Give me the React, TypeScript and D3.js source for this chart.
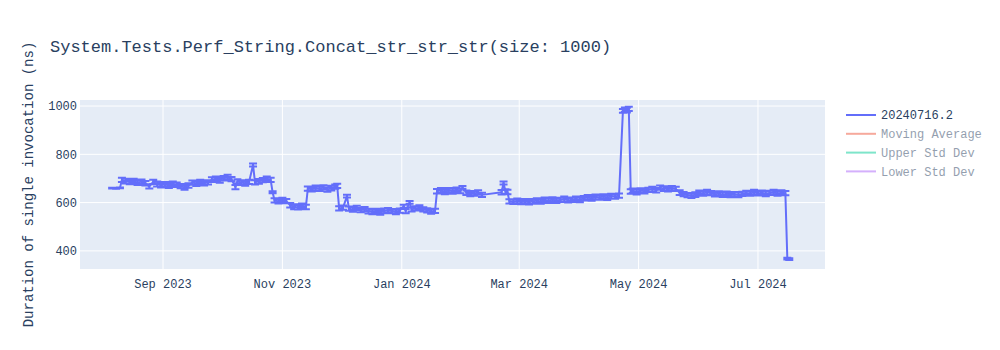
import React from "react";
import * as d3 from "d3";

const chartTitle = "System.Tests.Perf_String.Concat_str_str_str(size: 1000)";
const yAxisTitle = "Duration of single invocation (ns)";

// run dates, grouped by month
const runDates: string[] = [
  "2023-08-06","2023-08-08","2023-08-10","2023-08-11","2023-08-13","2023-08-15","2023-08-17","2023-08-19","2023-08-21","2023-08-23","2023-08-25","2023-08-27","2023-08-29","2023-08-31",
  "2023-09-02","2023-09-04","2023-09-06","2023-09-08","2023-09-10","2023-09-12","2023-09-14","2023-09-16","2023-09-18","2023-09-20","2023-09-22","2023-09-24","2023-09-26","2023-09-28","2023-09-30",
  "2023-10-02","2023-10-04","2023-10-06","2023-10-08","2023-10-09","2023-10-11","2023-10-13","2023-10-15","2023-10-17","2023-10-18","2023-10-20","2023-10-22","2023-10-24","2023-10-26","2023-10-27","2023-10-28","2023-10-30",
  "2023-11-01","2023-11-03","2023-11-05","2023-11-07","2023-11-09","2023-11-11","2023-11-13","2023-11-14","2023-11-16","2023-11-18","2023-11-20","2023-11-22","2023-11-24","2023-11-26","2023-11-28","2023-11-29","2023-11-30",
  "2023-12-02","2023-12-04","2023-12-05","2023-12-07","2023-12-09","2023-12-11","2023-12-13","2023-12-15","2023-12-17","2023-12-19","2023-12-21","2023-12-23","2023-12-25","2023-12-27","2023-12-29","2023-12-31",
  "2024-01-02","2024-01-03","2024-01-05","2024-01-06","2024-01-08","2024-01-10","2024-01-12","2024-01-14","2024-01-16","2024-01-18","2024-01-19","2024-01-21","2024-01-23","2024-01-25","2024-01-27","2024-01-29","2024-01-31",
  "2024-02-01","2024-02-03","2024-02-05","2024-02-07","2024-02-09","2024-02-11","2024-02-21","2024-02-22","2024-02-23","2024-02-24","2024-02-25","2024-02-27","2024-02-29",
  "2024-03-02","2024-03-04","2024-03-06","2024-03-08","2024-03-10","2024-03-12","2024-03-14","2024-03-16","2024-03-18","2024-03-20","2024-03-22","2024-03-24","2024-03-26","2024-03-28","2024-03-30",
  "2024-04-01","2024-04-03","2024-04-05","2024-04-07","2024-04-09","2024-04-11","2024-04-13","2024-04-15","2024-04-17","2024-04-19","2024-04-21","2024-04-23","2024-04-24","2024-04-25","2024-04-26","2024-04-27","2024-04-28","2024-04-30",
  "2024-05-02","2024-05-04","2024-05-06","2024-05-08","2024-05-10","2024-05-12","2024-05-14","2024-05-16","2024-05-18","2024-05-20","2024-05-22","2024-05-24","2024-05-26","2024-05-28","2024-05-30",
  "2024-06-01","2024-06-03","2024-06-05","2024-06-07","2024-06-09","2024-06-11","2024-06-13","2024-06-15","2024-06-17","2024-06-19","2024-06-21","2024-06-23","2024-06-25","2024-06-27","2024-06-29",
  "2024-07-01","2024-07-03","2024-07-05","2024-07-07","2024-07-09","2024-07-11","2024-07-13","2024-07-15","2024-07-16","2024-07-17",
];

// duration in ns, same grouping
const durations: number[] = [
  660,659,661,694,689,685,690,683,687,680,667,686,677,672,
  676,671,678,674,668,663,671,683,679,686,680,684,695,699,692,
  701,706,697,664,688,683,679,686,756,684,688,693,699,694,643,609,605,
  611,606,589,583,580,587,582,658,655,661,657,663,654,660,666,669,576,
  579,627,575,572,578,569,573,565,561,566,559,566,569,565,561,567,
  585,565,601,572,576,579,572,568,563,566,647,651,644,652,647,654,648,
  663,641,635,638,642,632,643,681,646,644,605,603,607,
  602,606,601,605,609,604,612,608,613,607,611,615,609,612,616,
  611,618,622,617,624,621,626,620,627,625,629,980,985,983,988,646,649,644,
  650,647,653,656,651,662,658,655,660,657,641,635,631,628,633,
  641,637,643,639,634,638,633,637,631,635,632,636,640,637,643,
  638,641,636,640,644,637,641,639,368,366,
];

// error (std dev) in ns, same grouping
const errors: number[] = [
  2,2,2,9,10,9,9,10,9,9,9,9,10,9,
  9,10,9,9,9,10,9,9,10,9,9,9,10,9,10,
  9,9,9,9,9,10,9,9,6,9,10,9,9,9,4,9,9,
  9,9,9,10,9,9,9,9,9,10,9,9,9,10,9,9,9,
  9,6,9,10,9,9,9,10,9,9,9,10,9,9,9,9,
  6,9,6,9,9,10,9,9,9,9,9,10,9,9,10,9,9,
  6,9,9,10,9,9,9,6,9,9,9,9,10,
  9,9,9,10,9,9,9,10,9,9,9,10,9,9,9,
  10,9,9,9,10,9,9,9,10,9,9,8,9,10,9,9,9,10,
  9,9,9,10,9,9,10,9,9,9,10,9,9,9,10,
  9,9,10,9,9,9,10,9,9,9,10,9,9,9,10,
  9,9,10,9,9,9,10,9,4,4,
];

const xDomain = ["2023-07-20T14:00:00Z", "2024-08-04T06:00:00Z"];
const xTickDates = ["2023-09-01", "2023-11-01", "2024-01-01", "2024-03-01", "2024-05-01", "2024-07-01"];
const xTickLabels = ["Sep 2023", "Nov 2023", "Jan 2024", "Mar 2024", "May 2024", "Jul 2024"];
const yDomain = [325, 1025];
const yTicks = [400, 600, 800, 1000];

const legendNames = ["20240716.2", "Moving Average", "Upper Std Dev", "Lower Std Dev"];
const legendColors = ["#636efa", "#EF553B", "#00cc96", "#ab63fa"];
const legendVisible = [true, false, false, false];

const W = 1000, H = 350;
const M = { left: 80, right: 825, top: 100, bottom: 269 };
const FONT = "'Liberation Mono', 'Courier New', monospace";
const TXT = "#2a3f5f";

export default function App() {
  const parse = d3.utcParse("%Y-%m-%d");
  const x = d3.scaleUtc()
    .domain([new Date(xDomain[0]), new Date(xDomain[1])])
    .range([M.left, M.right]);
  const y = d3.scaleLinear().domain(yDomain).range([M.bottom, M.top]);

  const n = Math.min(runDates.length, durations.length, errors.length);
  const pts = d3.range(n).map((i) => ({
    d: parse(runDates[i]) as Date,
    v: durations[i],
    e: errors[i],
  }));

  const line = d3.line<{ d: Date; v: number }>()
    .x((p) => x(p.d))
    .y((p) => y(p.v));

  const cw = 4;
  const errPath = pts
    .map((p) => {
      const px = x(p.d);
      const yh = y(p.v + p.e);
      const yl = y(p.v - p.e);
      return `M${px - cw},${yh}h${2 * cw}M${px},${yh}V${yl}M${px - cw},${yl}h${2 * cw}`;
    })
    .join("");

  const midY = (M.top + M.bottom) / 2;

  return (
    <svg
      width={W}
      height={H}
      style={{ position: "absolute", left: 0, top: 0, background: "#fff" }}
      fontFamily={FONT}
    >
      <defs>
        <clipPath id="plotclip">
          <rect x={M.left} y={M.top} width={M.right - M.left} height={M.bottom - M.top} />
        </clipPath>
      </defs>
      <rect x={M.left} y={M.top} width={M.right - M.left} height={M.bottom - M.top} fill="#e5ecf6" />
      {xTickDates.map((t) => {
        const px = x(parse(t) as Date);
        return <line key={t} x1={px} x2={px} y1={M.top} y2={M.bottom} stroke="#fff" strokeWidth={1} />;
      })}
      {yTicks.map((t) => (
        <line key={t} x1={M.left} x2={M.right} y1={y(t)} y2={y(t)} stroke="#fff" strokeWidth={1} />
      ))}
      <g clipPath="url(#plotclip)">
        <path d={errPath} fill="none" stroke="#636efa" strokeWidth={2} />
        <path d={line(pts) || ""} fill="none" stroke="#636efa" strokeWidth={2} strokeLinejoin="round" />
      </g>
      {xTickDates.map((t, i) => (
        <text key={t} x={x(parse(t) as Date)} y={288} textAnchor="middle" fontSize={12} fill={TXT}>
          {xTickLabels[i]}
        </text>
      ))}
      {yTicks.map((t) => (
        <text key={t} x={77} y={y(t)} dy="0.35em" textAnchor="end" fontSize={12} fill={TXT}>
          {t}
        </text>
      ))}
      <text x={50} y={52} fontSize={17} fill={TXT}>{chartTitle}</text>
      <text
        transform={`translate(33,${midY}) rotate(-90)`}
        textAnchor="middle"
        fontSize={14}
        fill={TXT}
      >
        {yAxisTitle}
      </text>
      {legendNames.map((name, i) => {
        const ly = 115 + i * 18.8;
        const op = legendVisible[i] ? 1 : 0.5;
        return (
          <g key={name} opacity={op}>
            <line x1={846} x2={876} y1={ly} y2={ly} stroke={legendColors[i]} strokeWidth={2} />
            <text x={881} y={ly} dy="0.35em" fontSize={12} fill={TXT}>{name}</text>
          </g>
        );
      })}
    </svg>
  );
}
